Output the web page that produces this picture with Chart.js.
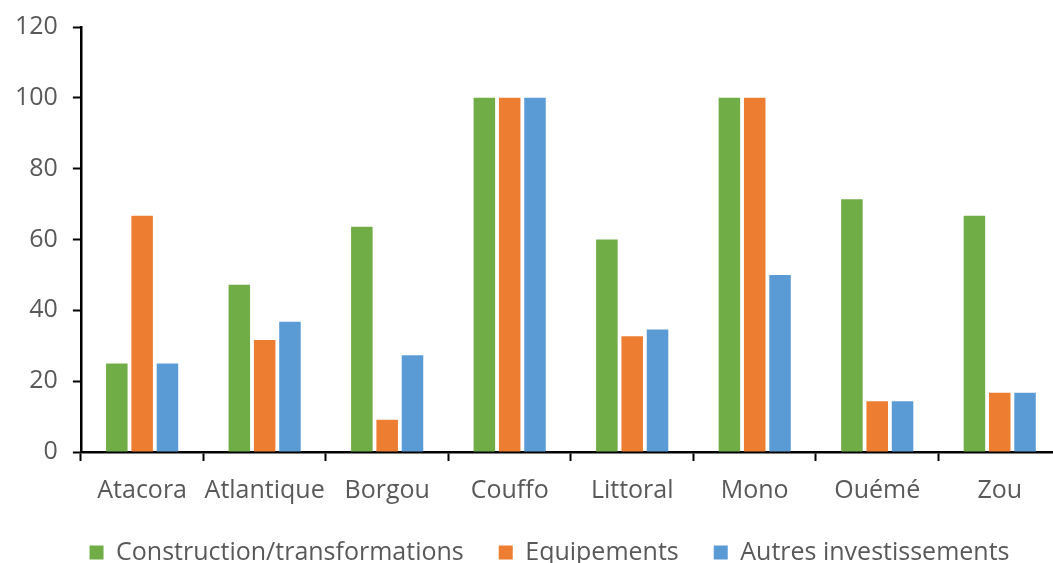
<!DOCTYPE html>
<html>
<head>
<meta charset="utf-8">
<script src="https://cdn.jsdelivr.net/npm/chart.js@4.4.1/dist/chart.umd.min.js"></script>
<style>
  html, body { margin: 0; padding: 0; background: #fff; }
  #frame { width: 1053px; height: 563px; overflow: hidden; position: relative; }
  #wrap { position: absolute; left: 0; top: -3px; width: 1098px; height: 594px; }
</style>
</head>
<body>
<div id="frame"><div id="wrap"><canvas id="chart"></canvas></div></div>
<script>
// ── Data ──────────────────────────────────────────────────────
const REGIONS = ['Atacora', 'Atlantique', 'Borgou', 'Couffo', 'Littoral', 'Mono', 'Ouémé', 'Zou'];
const CONSTRUCTION = [25, 47.2, 63.6, 100, 60, 100, 71.4, 66.7];
const EQUIPEMENTS  = [66.7, 31.6, 9.1, 100, 32.7, 100, 14.3, 16.7];
const AUTRES       = [25, 36.8, 27.3, 100, 34.6, 50, 14.3, 16.7];
const SERIES_NAMES = ['Construction/transformations', 'Equipements', 'Autres investissements'];
const Y_TICKS = [0, 20, 40, 60, 80, 100, 120];

const COLORS = ['#70AD47', '#ED7D31', '#5B9BD5'];
const TEXT = '#595959';
const FONT = '"Open Sans", "Liberation Sans", sans-serif';
const FSIZE = 25;

const ds = [CONSTRUCTION, EQUIPEMENTS, AUTRES].map((vals, i) => ({
    label: SERIES_NAMES[i],
    data: vals,
    backgroundColor: COLORS[i],
    borderWidth: 0,
    categoryPercentage: 0.62,
    barPercentage: 0.85,
}));

// nudge the legend up/right so it sits like the original
const legendNudge = {
    id: 'legendNudge',
    afterLayout(chart) {
        const lg = chart.legend;
        if (!lg) return;
        lg.top -= 16; lg.bottom -= 16;
        lg.left += 19; lg.right += 19;
    },
};

new Chart(document.getElementById('chart'), {
    type: 'bar',
    data: { labels: REGIONS, datasets: ds },
    plugins: [legendNudge],
    options: {
        responsive: true,
        maintainAspectRatio: false,
        animation: false,
        layout: { padding: { top: 0, right: 37, left: 0, bottom: 0 } },
        plugins: {
            tooltip: { enabled: false },
            legend: {
                position: 'bottom',
                labels: {
                    color: TEXT,
                    font: { family: FONT, size: FSIZE },
                    boxWidth: 14,
                    boxHeight: 14,
                    padding: 35,
                },
            },
        },
        scales: {
            x: {
                offset: true,
                grid: {
                    offset: true,
                    drawOnChartArea: false,
                    drawTicks: true,
                    tickLength: 9,
                    tickWidth: 2,
                    tickColor: '#000',
                },
                border: { color: '#000', width: 2.5 },
                ticks: { color: TEXT, font: { family: FONT, size: FSIZE }, padding: 15, maxRotation: 0, autoSkip: false },
            },
            y: {
                min: 0,
                max: 120,
                afterBuildTicks: axis => { axis.ticks = Y_TICKS.map(v => ({ value: v })); },
                grid: {
                    drawOnChartArea: false,
                    drawTicks: true,
                    tickLength: 8,
                    tickWidth: 2,
                    tickColor: '#000',
                },
                border: { color: '#000', width: 2.5 },
                ticks: { color: TEXT, font: { family: FONT, size: FSIZE }, padding: 15 },
            },
        },
    },
});
</script>
</body>
</html>
